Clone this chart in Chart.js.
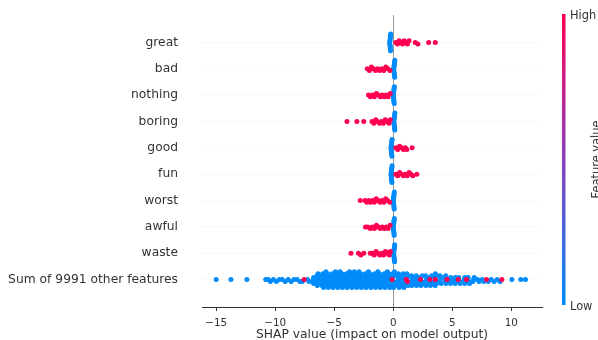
<!DOCTYPE html>
<html>
<head>
<meta charset="utf-8">
<script src="https://cdn.jsdelivr.net/npm/chart.js@4"></script>
<style>
  html, body { margin: 0; padding: 0; background: #fff; }
  #wrap { width: 598px; height: 340px; }
</style>
</head>
<body>
<div id="wrap"><canvas id="shapChart" width="598" height="340"></canvas></div>
<script>
// ─── Data ───
const features = ['great', 'bad', 'nothing', 'boring', 'good', 'fun', 'worst', 'awful', 'waste', 'Sum of 9991 other features'];
const xTicks = [-15, -10, -5, 0, 5, 10];

// blue = low feature value, red = high feature value (SHAP values)
const greatLow = [-0.3, -0.29, -0.28, -0.27, -0.26, -0.25, -0.25, -0.24, -0.23, -0.23, -0.22];
const greatHigh = [0.22, 0.36, 0.5, 0.64, 0.78, 0.92, 1.06, 1.2, 1.34, 1.86, 2.09, 3.0, 3.56];
const badLow = [0.04, 0.05, 0.06, 0.07, 0.08, 0.09, 0.1, 0.1, 0.11, 0.12, 0.13];
const badHigh = [-2.2, -2.02, -1.85, -1.68, -1.5, -1.33, -1.15, -0.98, -0.8, -0.63, -0.45, -0.28];
const nothingLow = [0.0, 0.01, 0.02, 0.03, 0.04, 0.05, 0.05, 0.06, 0.07, 0.08, 0.09];
const nothingHigh = [-2.1, -1.93, -1.76, -1.6, -1.43, -1.26, -1.1, -0.93, -0.76, -0.6, -0.43, -0.26];
const boringLow = [0.05, 0.06, 0.07, 0.08, 0.09, 0.1, 0.1, 0.11, 0.12, 0.13, 0.14];
const boringHigh = [-3.92, -3.08, -2.5, -1.8, -1.64, -1.48, -1.32, -1.16, -1.0, -0.84, -0.68, -0.52, -0.36, -0.25];
const goodLow = [-0.19, -0.18, -0.17, -0.16, -0.15, -0.15, -0.14, -0.13, -0.12, -0.11, -0.1];
const goodHigh = [0.22, 0.38, 0.54, 0.7, 0.86, 1.02, 1.15, 1.6];
const funLow = [-0.19, -0.18, -0.17, -0.16, -0.15, -0.15, -0.14, -0.13, -0.12, -0.11, -0.1];
const funHigh = [0.22, 0.38, 0.54, 0.7, 0.86, 1.02, 1.18, 1.34, 1.5, 1.66, 2.0];
const worstLow = [0.0, 0.01, 0.02, 0.03, 0.04, 0.05, 0.05, 0.06, 0.07, 0.08, 0.09];
const worstHigh = [-2.8, -2.4, -2.24, -2.08, -1.92, -1.76, -1.6, -1.44, -1.28, -1.12, -0.96, -0.8, -0.64, -0.48, -0.3];
const awfulLow = [0.0, 0.01, 0.02, 0.03, 0.04, 0.05, 0.05, 0.06, 0.07, 0.08, 0.09];
const awfulHigh = [-2.35, -2.15, -1.95, -1.78, -1.6, -1.43, -1.26, -1.1, -0.93, -0.76, -0.6, -0.43, -0.27];
const wasteLow = [0.03, 0.04, 0.05, 0.06, 0.07, 0.08, 0.08, 0.09, 0.1, 0.11, 0.12];
const wasteHigh = [-3.58, -2.95, -2.75, -2.5, -1.95, -1.78, -1.62, -1.46, -1.3, -1.14, -0.98, -0.82, -0.66, -0.5, -0.34, -0.25];
const sumHigh = [-7.55, -0.1, 1.1, 1.2, 2.3, 3.1, 3.56, 4.55, 5.5, 6.2, 7.9, 9.2];
const sumLow = [
  -15.0, -13.75, -12.4, -10.8, -10.6, -10.4, -10.15, -9.9, -9.65, -9.4, -9.15, -8.9, -8.65, -8.4, -8.15, -7.9, -7.7,
  -7.26, -7.14,
  -6.78, -6.86, -6.74, -6.75,
  -6.4, -6.46, -6.34, -6.35, -6.45, -6.43, -6.37,
  -5.98, -6.06, -5.94, -5.95, -6.05, -6.03, -5.97, -5.9,
  -5.6, -5.66, -5.54, -5.55, -5.65, -5.63, -5.57, -5.5, -5.7,
  -5.18, -5.26, -5.14, -5.15, -5.25, -5.23, -5.17, -5.1,
  -4.8, -4.86, -4.74, -4.75, -4.85, -4.83, -4.77, -4.7, -4.9,
  -4.4, -4.46, -4.34, -4.35, -4.45, -4.43, -4.37, -4.3, -4.5,
  -3.98, -4.06, -3.94, -3.95, -4.05, -4.03, -3.97, -3.9,
  -3.6, -3.66, -3.54, -3.55, -3.65, -3.63, -3.57, -3.5, -3.7,
  -3.2, -3.26, -3.14, -3.15, -3.25, -3.23, -3.17, -3.1, -3.3,
  -2.8, -2.86, -2.74, -2.75, -2.85, -2.83, -2.77, -2.7, -2.9,
  -2.38, -2.46, -2.34, -2.35, -2.45, -2.43, -2.37, -2.3,
  -2.0, -2.06, -1.94, -1.95, -2.05, -2.03, -1.97, -1.9, -2.1,
  -1.58, -1.66, -1.54, -1.55, -1.65, -1.63, -1.57, -1.5,
  -1.2, -1.26, -1.14, -1.15, -1.25, -1.23, -1.17, -1.1, -1.3,
  -0.78, -0.86, -0.74, -0.75, -0.85, -0.83, -0.77, -0.7,
  -0.4, -0.46, -0.34, -0.35, -0.45, -0.43, -0.37, -0.3, -0.5,
  0.02, -0.06, 0.06, 0.05, -0.05, -0.03, 0.03, 0.1,
  0.42, 0.34, 0.46, 0.45, 0.35, 0.37, 0.43, 0.5,
  0.82, 0.74, 0.86, 0.85, 0.75, 0.77, 0.83, 0.9,
  1.2, 1.14, 1.26, 1.25, 1.15,
  1.62, 1.54, 1.66, 1.65, 1.55, 1.57,
  2.02, 1.94, 2.06, 2.05, 1.95, 1.97,
  2.4, 2.34, 2.46, 2.45, 2.35,
  2.82, 2.74, 2.86, 2.85, 2.75, 2.77,
  3.2, 3.14, 3.26, 3.25, 3.15,
  3.62, 3.54, 3.66, 3.65, 3.55, 3.57,
  4.0, 3.94, 4.06, 4.05, 3.95,
  4.42, 4.34, 4.46, 4.45,
  4.82, 4.74, 4.86, 4.85,
  5.22, 5.14, 5.26, 5.25,
  5.6, 5.54, 5.66,
  6.02, 5.94, 6.06, 6.05,
  6.4, 6.34, 6.46,
  6.8, 6.74, 6.86,
  7.14, 7.26, 7.54, 7.66,
  8.05, 8.3, 8.55, 8.8, 9.05, 10.05, 10.8, 11.2
];

const lowRows = [greatLow, badLow, nothingLow, boringLow, goodLow, funLow, worstLow, awfulLow, wasteLow, sumLow];
const highRows = [greatHigh, badHigh, nothingHigh, boringHigh, goodHigh, funHigh, worstHigh, awfulHigh, wasteHigh, sumHigh];

const BLUE = '#008bfb';
const RED = '#ff0051';
const TEXT = '#333333';
const FONT = "'DejaVu Sans', sans-serif";

// beeswarm layout like shap: quantize x, stack alternately up/down in each bin
function swarm(values, binW, maxOff) {
  const order = values.map((v, i) => i).sort((a, b) =>
    Math.round(values[a] / binW) - Math.round(values[b] / binW) || a - b);
  const ys = new Array(values.length).fill(0);
  let last = null;
  let layer = 0;
  for (const i of order) {
    const q = Math.round(values[i] / binW);
    if (q !== last) layer = 0;
    ys[i] = Math.ceil(layer / 2) * ((layer % 2) * 2 - 1);
    layer++;
    last = q;
  }
  const m = Math.max(1, ...ys.map(Math.abs));
  return ys.map(y => y / m * maxOff);
}

const lowPts = [];
const highPts = [];
features.forEach((f, row) => {
  const hi = highRows[row];
  const lo = lowRows[row];
  const all = hi.concat(lo);
  const off = swarm(all, 0.4, row === features.length - 1 ? 0.3 : 0.32);
  all.forEach((v, i) => {
    const p = { x: v, y: row + off[i] };
    if (i < hi.length) highPts.push(p); else lowPts.push(p);
  });
});

const fmt = v => (v < 0 ? '\u2212' + Math.abs(v) : String(v));

// zero line + colour bar
const extras = {
  id: 'extras',
  beforeDatasetsDraw(chart) {
    const { ctx, chartArea, scales } = chart;
    const x0 = Math.round(scales.x.getPixelForValue(0)) + 0.5;
    ctx.save();
    ctx.strokeStyle = '#999999';
    ctx.lineWidth = 1;
    ctx.beginPath();
    ctx.moveTo(x0, chartArea.top);
    ctx.lineTo(x0, chartArea.bottom);
    ctx.stroke();
    ctx.restore();
  },
  afterDraw(chart) {
    const { ctx } = chart;
    const top = 14, bottom = 305, left = 562, w = 3.5;
    ctx.save();
    const g = ctx.createLinearGradient(0, top, 0, bottom);
    g.addColorStop(0, RED);
    g.addColorStop(0.5, '#8a3fbf');
    g.addColorStop(1, BLUE);
    ctx.fillStyle = g;
    ctx.fillRect(left, top, w, bottom - top);
    ctx.fillStyle = TEXT;
    ctx.font = '11.4px ' + FONT;
    ctx.textAlign = 'left';
    ctx.textBaseline = 'middle';
    ctx.fillText('High', 570, top + 2);
    ctx.fillText('Low', 570, bottom + 2);
    ctx.translate(597, (top + bottom) / 2);
    ctx.rotate(-Math.PI / 2);
    ctx.textAlign = 'center';
    ctx.fillText('Feature value', 0, 0);
    ctx.restore();
  }
};

new Chart(document.getElementById('shapChart'), {
  type: 'scatter',
  data: {
    datasets: [
      // chart.js paints the first dataset on top, so red goes first
      { data: highPts, backgroundColor: RED, borderWidth: 0, pointRadius: 2.5 },
      { data: lowPts, backgroundColor: BLUE, borderWidth: 0, pointRadius: 2.5 }
    ]
  },
  options: {
    responsive: false,
    animation: false,
    layout: { padding: { top: 15, right: 56, left: 0, bottom: 0 } },
    plugins: { legend: { display: false }, tooltip: { enabled: false } },
    scales: {
      x: {
        type: 'linear',
        min: -16.2,
        max: 12.6,
        afterBuildTicks: s => { s.ticks = xTicks.map(v => ({ value: v })); },
        afterFit: s => { s.height = 33; s.paddingLeft = 0; s.paddingRight = 0; },
        grid: { drawOnChartArea: false, drawTicks: true, tickLength: 4, color: TEXT },
        border: { display: true, color: TEXT, width: 1 },
        ticks: { callback: v => fmt(v), color: TEXT, font: { family: FONT, size: 10.4 }, padding: 6, maxRotation: 0 },
        title: { display: true, text: 'SHAP value (impact on model output)', color: TEXT, font: { family: FONT, size: 12.3 }, padding: { top: 0, bottom: -2 } }
      },
      y: {
        type: 'linear',
        reverse: true,
        min: -1.04,
        max: 10.04,
        afterBuildTicks: s => { s.ticks = features.map((f, i) => ({ value: i })); },
        afterFit: s => { s.width = 202; s.paddingTop = 0; s.paddingBottom = 0; },
        grid: { drawTicks: false, color: 'rgba(0,0,0,0.12)', lineWidth: 0.8 },
        border: { display: false, dash: [1, 3] },
        ticks: { callback: v => features[v], color: TEXT, font: { family: FONT, size: 12.3 }, padding: 24 }
      }
    }
  },
  plugins: [extras]
});
</script>
</body>
</html>
